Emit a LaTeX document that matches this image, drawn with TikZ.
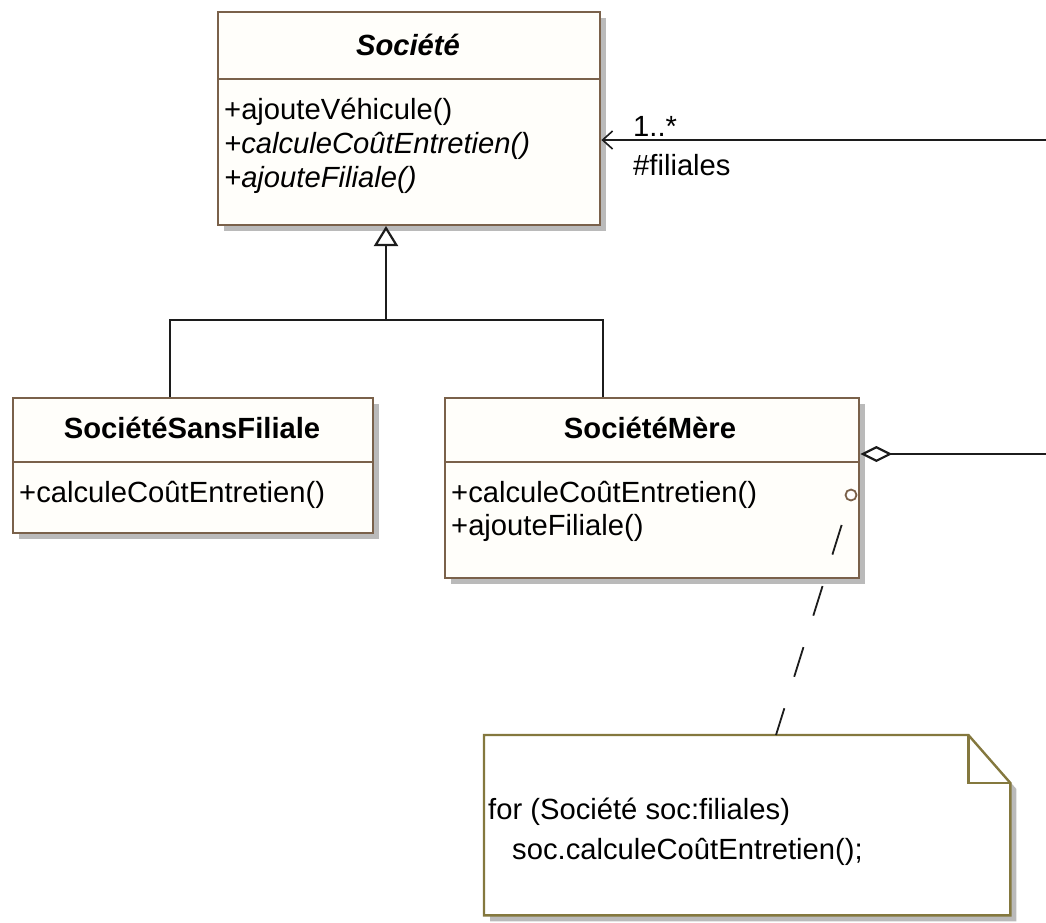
\documentclass[tikz,border=0pt]{standalone}
\usepackage{fontspec}
\setmainfont{Liberation Sans}
\usetikzlibrary{arrows.meta,shadows}

\definecolor{classline}{RGB}{122,97,74}
\definecolor{noteline}{RGB}{132,120,62}
\definecolor{shadowgray}{RGB}{186,186,186}
\definecolor{boxfill}{RGB}{255,254,250}
\definecolor{wire}{RGB}{28,28,28}

\newcommand{\umlsize}{\fontsize{29.2}{36}\selectfont}

\begin{document}
\begin{tikzpicture}[x=1pt,y=-1pt,
  classbox/.style={draw=classline, line width=2.4pt, fill=boxfill, anchor=north west,
    inner sep=0pt,
    drop shadow={shadow xshift=6pt, shadow yshift=-6pt, opacity=1, fill=shadowgray}},
  separator/.style={draw=classline, line width=2.4pt},
  classname/.style={inner sep=0pt, font=\umlsize\bfseries},
  abstractname/.style={inner sep=0pt, font=\umlsize\bfseries\itshape},
  member/.style={anchor=west, inner sep=0pt, font=\umlsize},
  abstractmember/.style={anchor=west, inner sep=0pt, font=\umlsize\itshape},
  endlabel/.style={anchor=west, inner sep=0pt, font=\umlsize},
  wireline/.style={draw=wire, line width=2.4pt},
  notetext/.style={anchor=west, inner sep=0pt, align=left,
    font=\fontsize{29.2}{40}\selectfont},
]
\useasboundingbox (0,0) rectangle (1046,922);

% ---- abstract class Société ----
\node[classbox, minimum width=382pt, minimum height=213pt] (soc) at (217,11) {};
\draw[separator] (217,79) -- (599,79);
\node[abstractname] (socName) at (408,45) {Société};
\node[member] (socM1) at (224,112) {+ajouteVéhicule()};
\node[abstractmember] (socM2) at (224,146) {+calculeCoûtEntretien()};
\node[abstractmember] (socM3) at (224,180) {+ajouteFiliale()};

% ---- SociétéSansFiliale ----
\node[classbox, minimum width=360pt, minimum height=135pt] (ssf) at (12,397) {};
\draw[separator] (12,462) -- (372,462);
\node[classname] (ssfName) at (192,428) {SociétéSansFiliale};
\node[member] (ssfM1) at (19,495) {+calculeCoûtEntretien()};

% ---- SociétéMère ----
\node[classbox, minimum width=414pt, minimum height=180pt] (mere) at (444,397) {};
\draw[separator] (444,462) -- (858,462);
\node[classname] (mereName) at (650,428) {SociétéMère};
\node[member] (mereM1) at (451,495) {+calculeCoûtEntretien()};
\node[member] (mereM2) at (451,528) {+ajouteFiliale()};

% ---- association filiales ----
\coordinate (assocEnd) at (1046,140);
\draw[wireline, -{Straight Barb[length=10pt,width=18pt,line width=1.6pt]}]
  (assocEnd) -- (soc.east |- assocEnd);
\node[endlabel] (mult) at (633,126) {1..*};
\node[endlabel] (role) at (633,165) {\#filiales};

% ---- generalisation ----
\coordinate (genTip) at (386,226);
\coordinate (genJoin) at (386,320);
\coordinate (ssfTop) at (170,397);
\coordinate (mereTop) at (603,397);
\draw[wireline, -{Triangle[open,length=20pt,width=24pt,line width=2.2pt]}]
  (genJoin) -- (genTip);
\draw[wireline] (ssfTop) -- (ssfTop |- genJoin) -- (mereTop |- genJoin) -- (mereTop);

% ---- aggregation ----
\coordinate (aggEnd) at (1046,454);
\draw[wireline, -{Diamond[open,length=32pt,width=16pt,line width=2.2pt]}]
  (aggEnd) -- (mere.east |- aggEnd);

% ---- note ----
\node[anchor=north west, minimum width=526pt, minimum height=180pt, inner sep=0pt]
  (note) at (484,735) {};
\fill[shadowgray, transform canvas={shift={(6pt,-6pt)}}]
  (note.north west) -- ([xshift=-42pt]note.north east) -- ([yshift=-48pt]note.north east)
  -- (note.south east) -- (note.south west) -- cycle;
\draw[noteline, line width=2.4pt, fill=white, line join=miter]
  (note.north west) -- ([xshift=-42pt]note.north east) -- ([yshift=-48pt]note.north east)
  -- (note.south east) -- (note.south west) -- cycle;
\draw[noteline, line width=2.4pt]
  ([xshift=-42pt]note.north east) -- ([xshift=-42pt,yshift=-48pt]note.north east)
  -- ([yshift=-48pt]note.north east);
\node[notetext] (noteText) at (488,832)
  {for (Société soc:filiales)\\\hspace*{24pt}soc.calculeCoûtEntretien();};

% ---- note attachment ----
\node[circle, draw=classline, line width=1.8pt, fill=white, minimum size=11pt,
  inner sep=0pt] (noteAnchor) at (851,495) {};
\coordinate (noteAttach) at (776,735);
\draw[draw=wire, line width=1.8pt, dash pattern=on 31pt off 33pt, dash phase=39pt]
  (noteAnchor) -- (noteAttach);
\end{tikzpicture}
\end{document}
